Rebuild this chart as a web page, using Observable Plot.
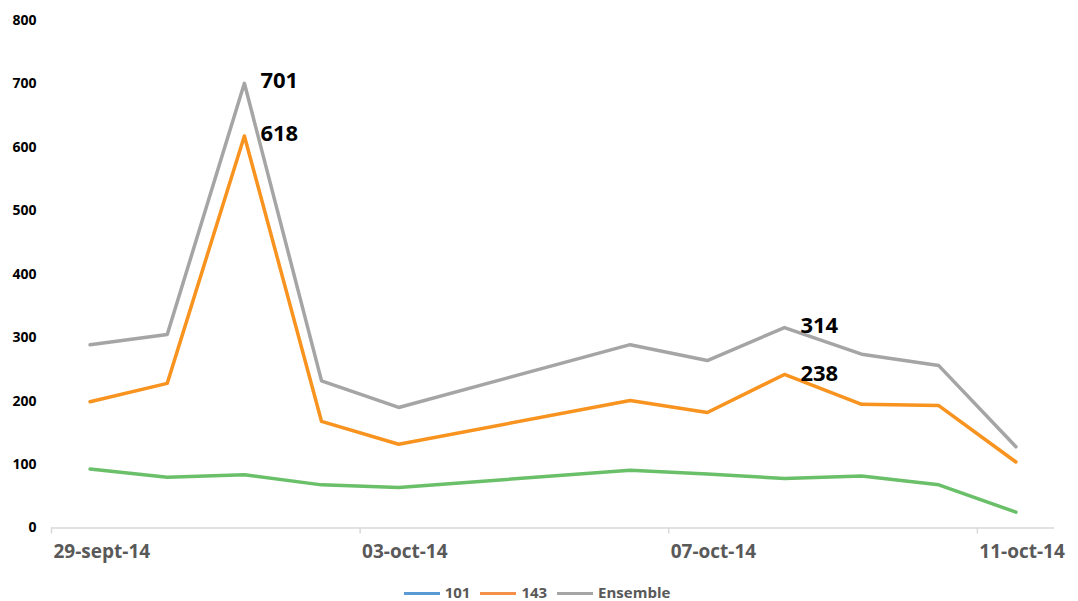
<!DOCTYPE html>
<html><head><meta charset="utf-8">
<script src="https://cdn.jsdelivr.net/npm/d3@7"></script>
<script src="https://cdn.jsdelivr.net/npm/@observablehq/plot@0.6"></script>
<style>
body{margin:0;background:#fff;font-family:"Open Sans",sans-serif;}
#legend{display:flex;justify-content:center;align-items:center;height:44px;font-weight:bold;font-size:15px;line-height:18px;color:#595959;gap:10px;margin-left:-4px}
#legend span.sw{display:inline-block;width:36px;height:3px;margin-right:5px;vertical-align:middle}
</style></head><body>
<div id="chart"></div>
<div id="legend"></div>
<script>
const dates = ["2014-09-29","2014-09-30","2014-10-01","2014-10-02","2014-10-03","2014-10-06","2014-10-07","2014-10-08","2014-10-09","2014-10-10","2014-10-11"];
const s101 = [93, 80, 84, 68, 64, 91, 85, 78, 82, 68, 25];
const s143 = [199, 228, 618, 168, 132, 201, 182, 242, 195, 193, 104];
const ensemble = [289, 305, 701, 232, 190, 289, 264, 316, 274, 256, 128];
const tickDates = ["2014-09-29","2014-10-03","2014-10-07","2014-10-11"];
const tickLabels = ["29-sept-14","03-oct-14","07-oct-14","11-oct-14"];
const yTicks = [0,100,200,300,400,500,600,700,800];
const labels = [
  {date:"2014-10-01", value:701, text:"701"},
  {date:"2014-10-01", value:618, text:"618"},
  {date:"2014-10-08", value:316, text:"314"},
  {date:"2014-10-08", value:240, text:"238"}
];
const seriesNames = ["101","143","Ensemble"];
const lineColors = {"101":"#6abf69","143":"#f7931e","Ensemble":"#a5a5a5"};
const legendColors = {"101":"#5b9bd5","143":"#f5904a","Ensemble":"#a5a5a5"};

const day0 = new Date("2014-09-29T00:00:00Z");
const dayIdx = s => Math.round((new Date(s+"T00:00:00Z") - day0)/86400000);

const rows = [];
dates.forEach((d,i)=>{
  rows.push({x:dayIdx(d), y:s101[i], s:"101"});
  rows.push({x:dayIdx(d), y:s143[i], s:"143"});
  rows.push({x:dayIdx(d), y:ensemble[i], s:"Ensemble"});
});
const tickRows = tickDates.map((d,i)=>({x:dayIdx(d)-0.5, label:tickLabels[i]}));
const labelRows = labels.map(l=>({x:dayIdx(l.date), y:l.value, text:l.text}));

const chart = Plot.plot({
  width:1078, height:570,
  marginTop:20, marginBottom:42.5, marginLeft:51, marginRight:24,
  x:{type:"linear", domain:[-0.5,12.5], axis:null},
  y:{domain:[0,800], ticks:yTicks, tickSize:0, tickPadding:15, label:null, tickFormat:d=>d},
  style:{fontFamily:"'Open Sans',sans-serif", background:"#fff"},
  marks:[
    Plot.ruleY([0], {stroke:"#d9d9d9", strokeWidth:1.5}),
    Plot.ruleX(tickRows, {x:"x", y1:0, y2:0, stroke:"#d9d9d9", insetBottom:-6, strokeWidth:1.5}),
    Plot.text(tickRows, {x:"x", y:0, text:"label", dy:24, dx:2, textAnchor:"start", fontSize:19, fontWeight:"bold", fill:"#595959"}),
    Plot.line(rows.filter(r=>r.s==="Ensemble"), {x:"x", y:"y", stroke:lineColors["Ensemble"], strokeWidth:3.5}),
    Plot.line(rows.filter(r=>r.s==="143"), {x:"x", y:"y", stroke:lineColors["143"], strokeWidth:3.5}),
    Plot.line(rows.filter(r=>r.s==="101"), {x:"x", y:"y", stroke:lineColors["101"], strokeWidth:3.5}),
    Plot.text(labelRows, {x:"x", y:"y", text:"text", textAnchor:"start", dx:16, dy:-2, fontSize:22, fontWeight:"bold", fill:"#000"})
  ]
});
chart.querySelectorAll("g[aria-label='y-axis tick label']").forEach(g=>{
  g.setAttribute("font-weight","bold"); g.setAttribute("font-size","14"); g.setAttribute("fill","#000");
});
document.getElementById("chart").appendChild(chart);

const lg = document.getElementById("legend");
seriesNames.forEach(n=>{
  const item = document.createElement("div");
  item.innerHTML = `<span class="sw" style="background:${legendColors[n]}"></span>${n}`;
  lg.appendChild(item);
});
</script>
</body></html>
